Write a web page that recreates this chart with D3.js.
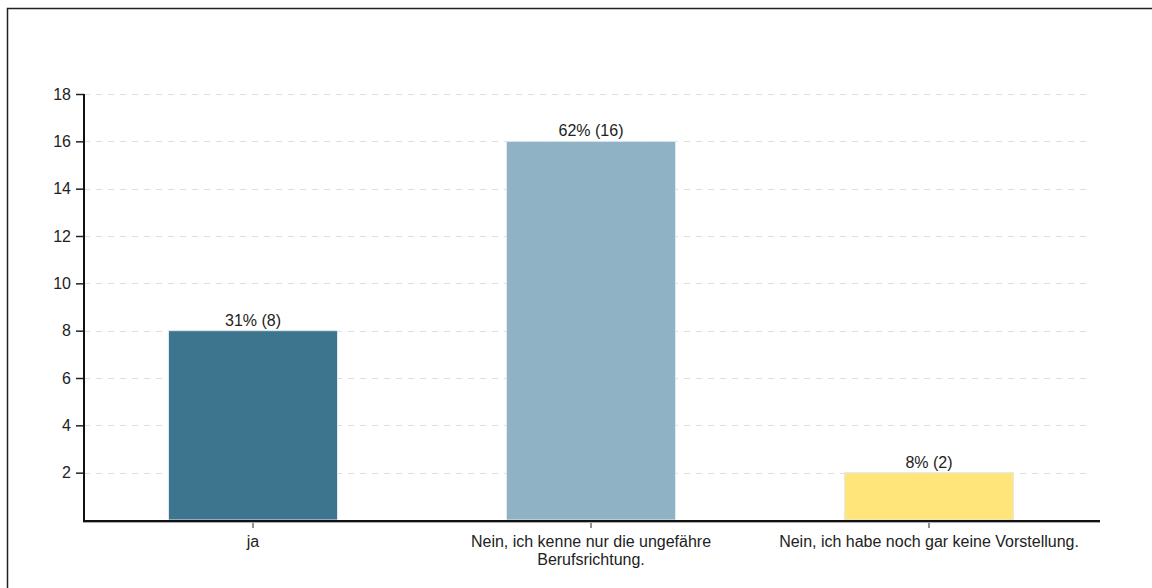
<!DOCTYPE html>
<html>
<head>
<meta charset="utf-8">
<script src="https://cdn.jsdelivr.net/npm/d3@7"></script>
<style>
  body { margin: 0; background: #fff; }
  svg { display: block; font-family: "Liberation Sans", Arial, sans-serif; }
</style>
</head>
<body>
<script>
var categories = ["ja", "Nein, ich kenne nur die ungefähre|Berufsrichtung.", "Nein, ich habe noch gar keine Vorstellung."];
var counts = [8, 16, 2];
var labels = ["31% (8)", "62% (16)", "8% (2)"];
var colors = ["#3d758f", "#8fb3c4", "#ffe57a"];
var yTicks = [2, 4, 6, 8, 10, 12, 14, 16, 18];

var width = 1152, height = 588;
var mLeft = 84, mRight = 1098, mTop = 94, mBottom = 520;
var fs = 16;

var svg = d3.select("body").append("svg")
    .attr("width", width)
    .attr("height", height);

// outer frame (only left + top show inside the picture)
svg.append("rect")
    .attr("x", 7.5).attr("y", 8.5)
    .attr("width", 1160).attr("height", 600)
    .attr("fill", "none")
    .attr("stroke", "#222")
    .attr("stroke-width", 1.5);

var x = d3.scaleBand()
    .domain(categories)
    .range([mLeft, mRight])
    .paddingInner(0.5)
    .paddingOuter(0.25);

var y = d3.scaleLinear()
    .domain([0, 18])
    .range([mBottom, mTop]);

// grid
svg.selectAll(".grid").data(yTicks).enter().append("line")
    .attr("x1", mLeft).attr("x2", 1090)
    .attr("y1", function(d){ return Math.round(y(d)) + 0.5; })
    .attr("y2", function(d){ return Math.round(y(d)) + 0.5; })
    .attr("stroke", "#dedede")
    .attr("stroke-width", 1)
    .attr("stroke-dasharray", "6,6");

// bars
svg.selectAll(".bar").data(counts).enter().append("rect")
    .attr("x", function(d, i){ return x(categories[i]); })
    .attr("y", function(d){ return y(d); })
    .attr("width", x.bandwidth())
    .attr("height", function(d){ return mBottom - y(d); })
    .attr("fill", function(d, i){ return colors[i]; })
    .attr("stroke", "#dfe9ee")
    .attr("stroke-width", 1);

// value labels
svg.selectAll(".val").data(counts).enter().append("text")
    .attr("x", function(d, i){ return x(categories[i]) + x.bandwidth() / 2; })
    .attr("y", function(d){ return y(d) - 5; })
    .attr("text-anchor", "middle")
    .attr("font-size", fs)
    .attr("fill", "#222")
    .text(function(d, i){ return labels[i]; });

// y axis
var yAxis = svg.append("g")
    .attr("transform", "translate(" + mLeft + ",0)")
    .call(d3.axisLeft(y).tickValues(yTicks).tickSize(8).tickPadding(5).tickSizeOuter(0));
yAxis.select(".domain").remove();
yAxis.selectAll("text").attr("font-size", fs).attr("fill", "#222")
    .attr("font-family", "Liberation Sans, Arial, sans-serif");
yAxis.selectAll("line").attr("stroke", "#222").attr("stroke-width", 1.5);

svg.append("line")
    .attr("x1", mLeft).attr("x2", mLeft)
    .attr("y1", mTop).attr("y2", mBottom + 1)
    .attr("stroke", "#111").attr("stroke-width", 2);

// x axis
var xAxis = svg.append("g")
    .attr("transform", "translate(0," + (mBottom + 1) + ")")
    .call(d3.axisBottom(x).tickSize(7).tickSizeOuter(0).tickFormat(""));
xAxis.select(".domain").remove();
xAxis.selectAll("line").attr("stroke", "#222").attr("stroke-width", 1);

svg.append("line")
    .attr("x1", mLeft - 1).attr("x2", mRight + 2)
    .attr("y1", mBottom + 2).attr("y2", mBottom + 2)
    .attr("stroke", "#aaa").attr("stroke-width", 2);
svg.append("line")
    .attr("x1", mLeft - 1).attr("x2", mRight + 2)
    .attr("y1", mBottom + 1).attr("y2", mBottom + 1)
    .attr("stroke", "#111").attr("stroke-width", 2);

// x tick labels (multi-line)
xAxis.selectAll(".tick").each(function(d){
    var t = d3.select(this).append("text")
        .attr("y", 26)
        .attr("text-anchor", "middle")
        .attr("font-size", fs)
        .attr("fill", "#222")
        .attr("font-family", "Liberation Sans, Arial, sans-serif");
    d.split("|").forEach(function(line, k){
        t.append("tspan").attr("x", 0).attr("dy", k == 0 ? 0 : 18).text(line);
    });
});
</script>
</body>
</html>
